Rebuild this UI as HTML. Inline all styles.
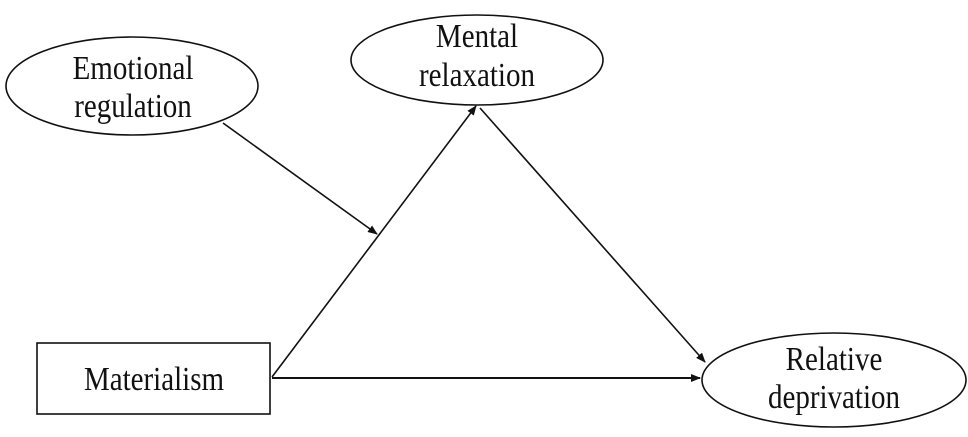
<!DOCTYPE html>
<html><head><style>html,body{margin:0;padding:0;background:#fff}</style></head>
<body>
<svg width="968" height="432" viewBox="0 0 968 432" xmlns="http://www.w3.org/2000/svg" font-family="Liberation Serif, serif" font-size="29" fill="#111">
<defs><marker id="a" markerWidth="10" markerHeight="8" refX="9" refY="4" orient="auto" markerUnits="userSpaceOnUse"><path d="M0,0 L10,4 L0,8 z" fill="#111"/></marker></defs>
<g stroke="#111" stroke-width="1.6" fill="none">
<ellipse cx="132" cy="86" rx="126" ry="49"/>
<ellipse cx="477" cy="60" rx="126" ry="45"/>
<ellipse cx="834" cy="380" rx="132" ry="47"/>
<rect x="37" y="343" width="233" height="71"/>
<line x1="223" y1="123" x2="377" y2="234" marker-end="url(#a)"/>
<line x1="272" y1="377" x2="476" y2="106" marker-end="url(#a)"/>
<line x1="480" y1="108" x2="705" y2="362" marker-end="url(#a)"/>
<line x1="272" y1="378" x2="700" y2="378" stroke-width="2" marker-end="url(#a)"/>
</g>
<g text-anchor="middle" stroke="none">
<text transform="translate(133,79) scale(1,1.15)">Emotional</text>
<text transform="translate(133,117) scale(1,1.15)">regulation</text>
<text transform="translate(477,47) scale(1,1.15)">Mental</text>
<text transform="translate(477,86) scale(1,1.15)">relaxation</text>
<text transform="translate(834,370) scale(1,1.15)">Relative</text>
<text transform="translate(834,408) scale(1,1.15)">deprivation</text>
<text transform="translate(154,390) scale(1,1.15)">Materialism</text>
</g>
</svg>
</body></html>
